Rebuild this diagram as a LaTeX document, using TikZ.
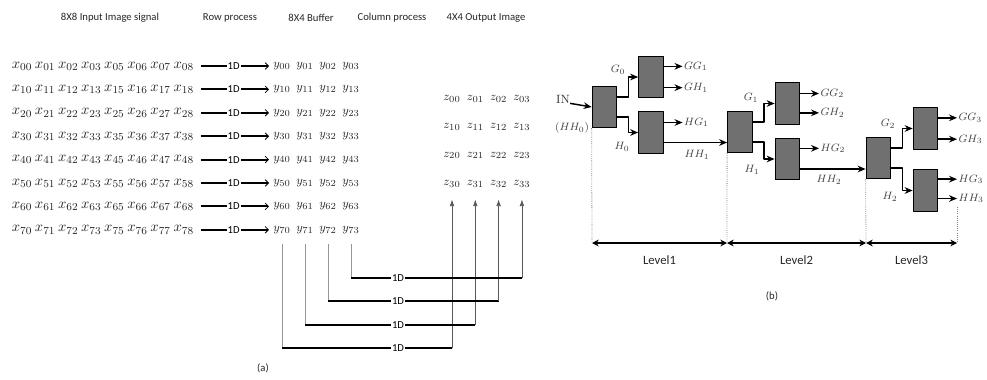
\documentclass[tikz,border=0pt]{standalone}
\usepackage{amsmath,amssymb}
\usepackage{fontspec}
\usepackage{tikz}
\usetikzlibrary{arrows.meta,calc}
\usepackage{xcolor}
\newfontfamily\labfont{Carlito}
\definecolor{boxgray}{RGB}{112,112,112}
\definecolor{wiregray}{RGB}{150,150,150}

\begin{document}
\begin{tikzpicture}[x=0.75pt,y=-0.75pt,line join=round,
  xent/.style={inner sep=0pt,text=black!85,font=\fontsize{11}{12}\selectfont},
  yent/.style={inner sep=0pt,text=black!85,font=\fontsize{9.5}{11}\selectfont},
  title/.style={font=\labfont\fontsize{8}{9}\selectfont,text=black!85},
  onelbl/.style={fill=white,inner sep=0.7pt,font=\labfont\fontsize{8}{9}\selectfont},
  rowarr/.style={line width=1.4pt,shorten <=5pt,shorten >=3pt,
    -{Straight Barb[length=2.5pt,width=5pt,line width=0.6pt]}},
  colline/.style={wiregray,line width=0.5pt,shorten <=7.5pt},
  colbar/.style={line width=1.4pt},
  uparr/.style={black!65,line width=0.6pt,shorten >=9pt,-{Latex[length=5pt,width=3.5pt]}},
  stagebox/.style={draw=black,fill=boxgray,line width=0.8pt,inner sep=0pt,
    minimum width=18.5pt,minimum height=31pt},
  arr/.style={line width=1.1pt,-{Stealth[length=6pt,width=5pt]}},
  mlab/.style={inner sep=1pt,text=black!75,font=\fontsize{8.5}{10}\selectfont},
  dotline/.style={gray,densely dotted,line width=0.6pt},
  lvarr/.style={line width=0.9pt,{Stealth[length=5pt,width=5pt]}-{Stealth[length=5pt,width=5pt]}},
  lvlbl/.style={font=\labfont\fontsize{9.5}{11}\selectfont,text=black!85}]
\useasboundingbox (0,0) rectangle (987,379);

% (a) titles
\node[title] (t1) at (110,18) {8X8 Input Image signal};
\node[title] (t2) at (230,18) {Row process};
\node[title] (t3) at (311,18) {8X4 Buffer};
\node[title] (t4) at (392,18) {Column process};
\node[title] (t5) at (486,18) {4X4 Output Image};

% input, buffer and output values
\foreach \r in {0,...,7} {
  \foreach \c [count=\k from 0] in {0,1,2,3,5,6,7,8}
    \node[xent] (x\r\c) at (22+23.1*\k,66+23.4*\r) {$x_{\r\c}$};
  \foreach \c in {0,...,3}
    \node[yent] (y\r\c) at (282+23*\c,66+23.4*\r) {$y_{\r\c}$};
  \draw[rowarr] (x\r8.east) -- node[onelbl] {1D} (y\r0.west);
}
\foreach \r in {0,...,3}
  \foreach \c in {0,...,3}
    \node[yent] (z\r\c) at (452+23.3*\c,99+28.2*\r) {$z_{\r\c}$};

% column process
\foreach \c/\h in {0/348,1/324.7,2/301.3,3/278} {
  \coordinate (c\c) at (y7\c.south |- 0,\h);
  \coordinate (d\c) at (z3\c.south |- 0,\h);
  \draw[colline] (y7\c.south) -- (c\c);
  \draw[colbar] (c\c) -- (d\c);
  \node[onelbl] (k\c) at (398,\h) {1D};
  \draw[uparr] (d\c) -- (z3\c.south);
}
\node[title] (capa) at (263,368) {(a)};

% (b) decomposition levels
\node[stagebox] (B0) at (604.5,107) {};
\node[stagebox] (B1) at (651,77) {};
\node[stagebox] (B2) at (651,132.5) {};
\node[stagebox] (B3) at (740,132) {};
\node[stagebox] (B4) at (787.5,103.5) {};
\node[stagebox] (B5) at (787.5,159) {};
\node[stagebox] (B6) at (878.5,158) {};
\node[stagebox] (B7) at (925.5,128.5) {};
\node[stagebox] (B8) at (925.5,190.5) {};

\node[inner sep=0pt,text=black!80,font=\fontsize{9}{10}\selectfont] (in) at (563,99) {IN};
\node[mlab] (hh0) at (572,128) {$(HH_0)$};
\draw[arr] (in.south east) -- (B0.west);

\draw[arr] ([yshift=7.5pt]B0.east) -- ++(11,0) |- (B1.west);
\draw[arr] ([yshift=-7.5pt]B0.east) -- ++(11,0) |- (B2.west);
\draw[arr] ([yshift=7.5pt]B3.east) -- ++(11,0) |- (B4.west);
\draw[arr] ([yshift=-7.5pt]B3.east) -- ++(11,0) |- (B5.west);
\draw[arr] ([yshift=7.5pt]B6.east) -- ++(11,0) |- (B7.west);
\draw[arr] ([yshift=-7.5pt]B6.east) -- ++(11,0) |- (B8.west);
\node[mlab] (g0) at (618,70) {$G_0$};
\node[mlab] (h0) at (622,147) {$H_0$};
\node[mlab] (g1) at (751,98) {$G_1$};
\node[mlab] (h1) at (752,170) {$H_1$};
\node[mlab] (g2) at (888,124) {$G_2$};
\node[mlab] (h2) at (890,197) {$H_2$};

\coordinate (p1) at ([yshift=-7.5pt]B2.east);
\coordinate (p2) at ([yshift=-7.5pt]B5.east);
\draw[arr] (p1) -- (p1 -| B3.west);
\draw[arr] (p2) -- (p2 -| B6.west);
\node[mlab] (hh1) at (697,155) {$HH_1$};
\node[mlab] (hh2) at (829,180) {$HH_2$};

% outputs
\node[mlab,anchor=west] (gg1) at ([xshift=14pt,yshift=8pt]B1.east) {$GG_1$};
\node[mlab,anchor=west] (gh1) at ([xshift=14pt,yshift=-8pt]B1.east) {$GH_1$};
\node[mlab,anchor=west] (hg1) at ([xshift=14pt,yshift=7.5pt]B2.east) {$HG_1$};
\node[mlab,anchor=west] (gg2) at ([xshift=14pt,yshift=7.5pt]B4.east) {$GG_2$};
\node[mlab,anchor=west] (gh2) at ([xshift=14pt,yshift=-7pt]B4.east) {$GH_2$};
\node[mlab,anchor=west] (hg2) at ([xshift=14pt,yshift=8pt]B5.east) {$HG_2$};
\node[mlab,anchor=west] (gg3) at ([xshift=14pt,yshift=8pt]B7.east) {$GG_3$};
\node[mlab,anchor=west] (gh3) at ([xshift=14pt,yshift=-8pt]B7.east) {$GH_3$};
\node[mlab,anchor=west] (hg3) at ([xshift=14pt,yshift=8.5pt]B8.east) {$HG_3$};
\node[mlab,anchor=west] (hh3) at ([xshift=14pt,yshift=-6pt]B8.east) {$HH_3$};
\foreach \b/\o in {B1/gg1,B1/gh1,B2/hg1,B4/gg2,B4/gh2,B5/hg2,B7/gg3,B7/gh3,B8/hg3,B8/hh3}
  \draw[arr] (\b.east |- \o.west) -- (\o.west);

% level spans
\coordinate (L0) at (592,243);
\coordinate (L1) at (727,243);
\coordinate (L2) at (866,243);
\coordinate (L3) at (957,243);
\coordinate (r3) at (957,207);
\draw[dotline] (B0.south west) -- (L0);
\draw[dotline] (B3.south west) -- (L1);
\draw[dotline] (B6.south west) -- (L2);
\draw[dotline] (r3) -- (L3);
\draw[lvarr] (L0) -- (L1);
\draw[lvarr] (L1) -- (L2);
\draw[lvarr] (L2) -- (L3);
\node[lvlbl] (lv1) at ($(L0)!0.5!(L1)+(0,17)$) {Level1};
\node[lvlbl] (lv2) at ($(L1)!0.5!(L2)+(0,17)$) {Level2};
\node[lvlbl] (lv3) at ($(L2)!0.5!(L3)+(0,17)$) {Level3};
\node[title] (capb) at (772,296) {(b)};
\end{tikzpicture}
\end{document}
